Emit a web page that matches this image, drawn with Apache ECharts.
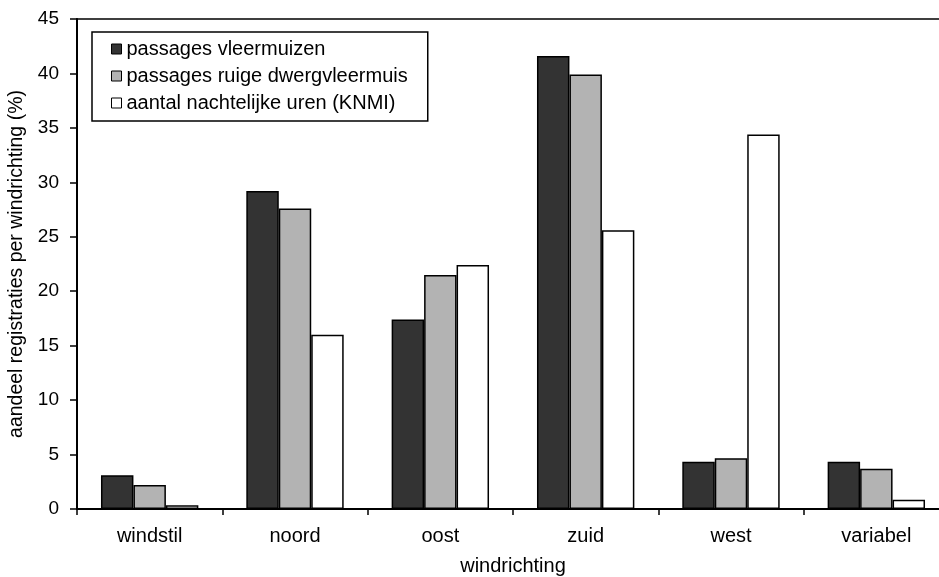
<!DOCTYPE html>
<html>
<head>
<meta charset="utf-8">
<script src="https://cdn.jsdelivr.net/npm/echarts@6/dist/echarts.min.js"></script>
<style>
html,body{margin:0;padding:0;background:#fff;}
#chart{width:939px;height:577px;}
</style>
</head>
<body>
<div id="chart"></div>
<script>
const categories = ['windstil', 'noord', 'oost', 'zuid', 'west', 'variabel'];
const seriesNames = ['passages vleermuizen', 'passages ruige dwergvleermuis', 'aantal nachtelijke uren (KNMI)'];
const vleermuizen = [3.1, 29.2, 17.4, 41.6, 4.35, 4.35];
const ruigeDwergvleermuis = [2.2, 27.6, 21.5, 39.9, 4.65, 3.7];
const nachtelijkeUren = [0.35, 16.0, 22.4, 25.6, 34.4, 0.85];
const yTicks = { min: 0, max: 45, interval: 5 };

const FONT = 'Liberation Sans, Arial, sans-serif';
const colors = ['#333333', '#b3b3b3', '#ffffff'];
const values = [vleermuizen, ruigeDwergvleermuis, nachtelijkeUren];

const chart = echarts.init(document.getElementById('chart'), null, { renderer: 'canvas' });
chart.setOption({
  animation: false,
  backgroundColor: '#fff',
  textStyle: { fontFamily: FONT, color: '#000' },
  grid: {
    left: 77, top: 19, width: 872, bottom: 68,
    containLabel: false,
    outerBoundsMode: 'none',
    show: true, borderColor: '#000', borderWidth: 1.5, backgroundColor: 'transparent'
  },
  legend: {
    orient: 'vertical',
    left: 92, top: 32,
    backgroundColor: '#fff',
    borderColor: '#000', borderWidth: 1.5,
    padding: [7, 20, 8, 19],
    itemWidth: 10, itemHeight: 10, itemGap: 7,
    icon: 'rect',
    itemStyle: { borderColor: '#000', borderWidth: 1 },
    textStyle: { fontFamily: FONT, fontSize: 20, color: '#000' },
    data: seriesNames
  },
  xAxis: {
    type: 'category',
    data: categories,
    name: 'windrichting',
    nameLocation: 'middle',
    nameGap: 47,
    nameTextStyle: { fontFamily: FONT, fontSize: 20, color: '#000' },
    axisLine: { lineStyle: { color: '#000', width: 2 } },
    axisTick: { show: true, length: 6, lineStyle: { color: '#000', width: 1.5 } },
    axisLabel: { fontFamily: FONT, fontSize: 20, color: '#000', margin: 17 },
    splitLine: { show: false }
  },
  yAxis: {
    type: 'value',
    min: yTicks.min, max: yTicks.max, interval: yTicks.interval,
    name: 'aandeel registraties per windrichting (%)',
    nameLocation: 'middle',
    nameGap: 48,
    nameTextStyle: { fontFamily: FONT, fontSize: 19.5, color: '#000' },
    axisLine: { show: true, lineStyle: { color: '#000', width: 2 } },
    axisTick: { show: true, length: 7, lineStyle: { color: '#000', width: 1.5 } },
    axisLabel: { fontFamily: FONT, fontSize: 19, color: '#000', margin: 18 },
    splitLine: { show: false }
  },
  series: seriesNames.map((name, i) => ({
    name: name,
    type: 'bar',
    data: values[i],
    barGap: '0%',
    barCategoryGap: '33%',
    itemStyle: { color: colors[i], borderColor: '#000', borderWidth: 1.5 }
  }))
});
</script>
</body>
</html>
